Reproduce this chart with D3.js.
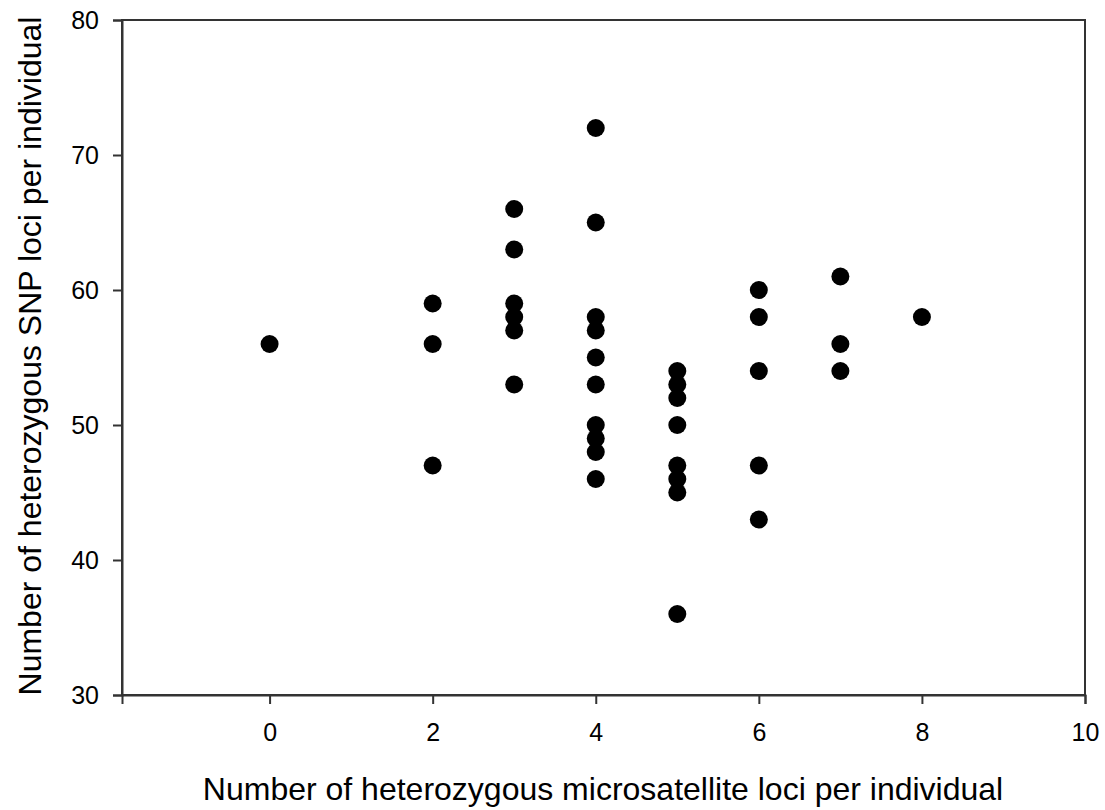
<!DOCTYPE html>
<html><head><meta charset="utf-8">
<script src="https://cdn.jsdelivr.net/npm/d3@7"></script>
<style>body{margin:0;background:#fff}svg text{font-family:"Liberation Sans",Arial,sans-serif;fill:#000}</style>
</head><body><svg id="c" width="1105" height="810"></svg>
<script>
const msLoci = [0, 2,2,2, 3,3,3,3,3,3, 4,4,4,4,4,4,4,4,4,4, 5,5,5,5,5,5,5,5, 6,6,6,6,6, 7,7,7, 8];
const snpLoci = [56, 59,56,47, 66,63,59,58,57,53, 72,65,58,57,55,53,50,49,48,46, 54,53,52,50,47,46,45,36, 60,58,54,47,43, 61,56,54, 58];
const xTicks = [0,2,4,6,8,10];
const yTicks = [30,40,50,60,70,80];
const xTitle = "Number of heterozygous microsatellite loci per individual";
const yTitle = "Number of heterozygous SNP loci per individual";

const L=122, R=1085, T=20, B=695;
const svg = d3.select("#c");
const x = d3.scaleLinear().domain([-1.81,10]).range([L,R]);
const y = d3.scaleLinear().domain([30,80]).range([B,T]);
const col="#333";
svg.append("rect").attr("x",L).attr("y",T).attr("width",R-L).attr("height",B-T)
  .attr("fill","none").attr("stroke",col).attr("stroke-width",2);
const xa = svg.append("g").attr("transform",`translate(0,${B})`)
  .call(d3.axisBottom(x).tickValues(xTicks).tickSize(9).tickPadding(19).tickFormat(d3.format("d")));
const ya = svg.append("g").attr("transform",`translate(${L},0)`)
  .call(d3.axisLeft(y).tickValues(yTicks).tickSize(9).tickPadding(14).tickFormat(d3.format("d")));
[xa,ya].forEach(a=>{
  a.attr("font-size",25).attr("font-family","Liberation Sans, Arial, sans-serif");
  a.select(".domain").attr("stroke",col).attr("stroke-width",2);
  a.selectAll(".tick line").attr("stroke",col).attr("stroke-width",2);
  a.selectAll(".tick text").style("font-size","25px").attr("fill","#000");
});
svg.append("g").selectAll("circle").data(msLoci.map((d,i)=>[d,snpLoci[i]])).join("circle")
  .attr("cx",d=>x(d[0])).attr("cy",d=>y(d[1])).attr("r",9).attr("fill","#000");
svg.append("text").attr("x",603).attr("y",800).attr("text-anchor","middle").style("font-size","32px").text(xTitle);
svg.append("text").attr("transform",`translate(41,356) rotate(-90)`).attr("text-anchor","middle").style("font-size","32px").text(yTitle);
</script></body></html>
